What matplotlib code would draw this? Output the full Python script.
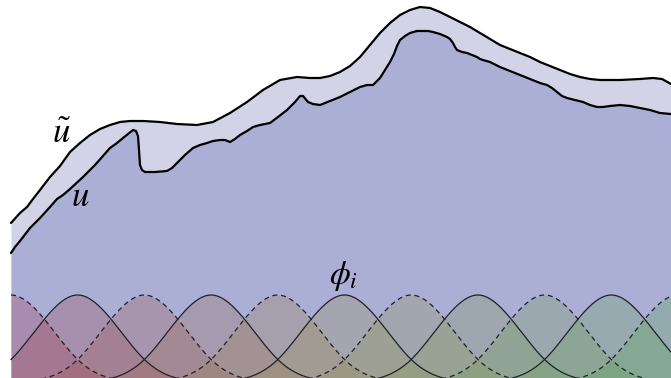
#!/usr/bin/env python

""" sketch of u, its smoothed version u~ and the basis functions phi_i """

import numpy as np
import matplotlib
matplotlib.use("Agg")
import matplotlib.pyplot as plt
from matplotlib.colors import LinearSegmentedColormap

# all positions in picture pixels, y measured down from the top edge
width, height = 671, 378
x0 = 11

# smoothed curve u~
ut_x = [11, 20, 27, 33, 40, 50, 60, 70, 80, 90, 100, 110, 120, 130, 143,
        160, 177, 197, 213, 230, 247, 263, 280, 297, 310, 320, 330, 340,
        350, 360, 370, 380, 390, 400, 410, 420, 430, 440, 450, 460, 470,
        480, 490, 500, 510, 520, 530, 540, 550, 560, 570, 580, 590, 600,
        620, 640, 653, 662, 671]
ut_y = [223, 213, 207, 199, 190, 177, 166, 152, 143, 135, 129, 125, 122,
        121, 121, 122, 124, 125, 122, 113, 102, 90, 80, 77, 78, 78, 76, 72,
        66, 57, 45, 33, 23, 15, 10, 7, 8, 12, 17, 22, 27, 33, 39, 45, 49,
        53, 57, 62, 66, 70, 74, 77, 79, 80, 80, 79, 78, 79, 84]

# rough curve u
u_x = [11, 15, 20, 30, 40, 50, 57, 63, 70, 83, 95, 110, 117, 123, 128,
       133, 136, 138, 139, 140, 142, 145, 155, 167, 172, 177, 185, 193,
       200, 207, 213, 220, 225, 230, 235, 240, 247, 253, 260, 270, 278,
       287, 295, 300, 303, 308, 313, 320, 330, 340, 350, 360, 367, 373,
       377, 380, 385, 390, 394, 397, 400, 405, 410, 417, 423, 428, 433,
       440, 447, 450, 453, 455, 457, 462, 467, 472, 477, 480, 483, 490,
       500, 510, 520, 530, 540, 547, 552, 557, 562, 567, 575, 583, 590,
       597, 603, 610, 620, 630, 640, 650, 660, 671]
u_y = [253, 247, 241, 228, 218, 207, 199, 195, 189, 177, 165, 148, 143,
       138, 134, 130, 131, 136, 150, 165, 170, 172, 172, 171, 168, 163,
       155, 148, 145, 143, 141, 140, 140, 142, 139, 135, 131, 127, 125,
       123, 117, 110, 102, 96, 96, 102, 104, 105, 101, 97, 92, 87, 85, 85,
       81, 78, 70, 62, 54, 46, 40, 36, 33, 31, 31, 31, 32, 34, 37, 39, 43,
       47, 50, 52, 53, 55, 57, 59, 60, 62, 67, 71, 75, 79, 83, 85, 88, 92,
       96, 98, 100, 102, 105, 107, 107, 106, 105, 106, 108, 110, 113, 114]

# basis functions phi_i
phi_centers = [11, 77.7, 144.4, 211.1, 277.8, 344.5, 411.2, 477.9, 544.6,
               611.3, 678.0]
phi_spacing = 66.7
phi_peak = 295
phi_base = 381


def bspline(t):
    """ cubic B-spline, scaled to 1 at t=0 """
    t = np.abs(t)
    out = np.zeros_like(t)
    m1 = t < 1
    m2 = (t >= 1) & (t < 2)
    out[m1] = (4 - 6 * t[m1]**2 + 3 * t[m1]**3) / 6
    out[m2] = (2 - t[m2])**3 / 6
    return out * 1.5


def main():

    plt.rcParams['mathtext.fontset'] = "stix"
    fig = plt.figure(figsize=(width / 100, height / 100), dpi=100)
    ax = fig.add_axes([0, 0, 1, 1])

    ax.fill_between(ut_x, ut_y, height, color="#d3d3e8", lw=0)
    ax.fill_between(u_x, u_y, height, color="#abaed5", lw=0)

    cmap = LinearSegmentedColormap.from_list(
        "phi", ["#a23a55", "#9a9158", "#5ea55a"])
    xs = np.linspace(x0, width, 1400)
    for i, c in enumerate(phi_centers):
        b = bspline((xs - c) / phi_spacing)
        y = phi_base - b * (phi_base - phi_peak)
        col = cmap(i / (len(phi_centers) - 1))
        ax.fill_between(xs, y, phi_base, where=b > 0, color=col,
                        alpha=0.3, lw=0)
        ls = (0, (4, 3)) if i % 2 == 0 else "-"
        ax.plot(xs[b > 0], y[b > 0], color="#202028", lw=0.9, ls=ls)

    ax.plot(ut_x, ut_y, color="black", lw=1.6, solid_capstyle="round",
            solid_joinstyle="round")
    ax.plot(u_x, u_y, color="black", lw=1.6, solid_capstyle="round",
            solid_joinstyle="round")

    ax.text(61, 133, r"$\tilde{u}$", fontsize=25, ha="center", va="center")
    ax.text(80, 196, r"$u$", fontsize=25, ha="center", va="center")
    ax.text(344, 276, r"$\phi_i$", fontsize=24, ha="center", va="center")

    ax.set_xlim(0, width)
    ax.set_ylim(height, 0)
    ax.axis("off")

    fig.savefig("out.png", dpi=100)

if __name__ == "__main__":

    main()
